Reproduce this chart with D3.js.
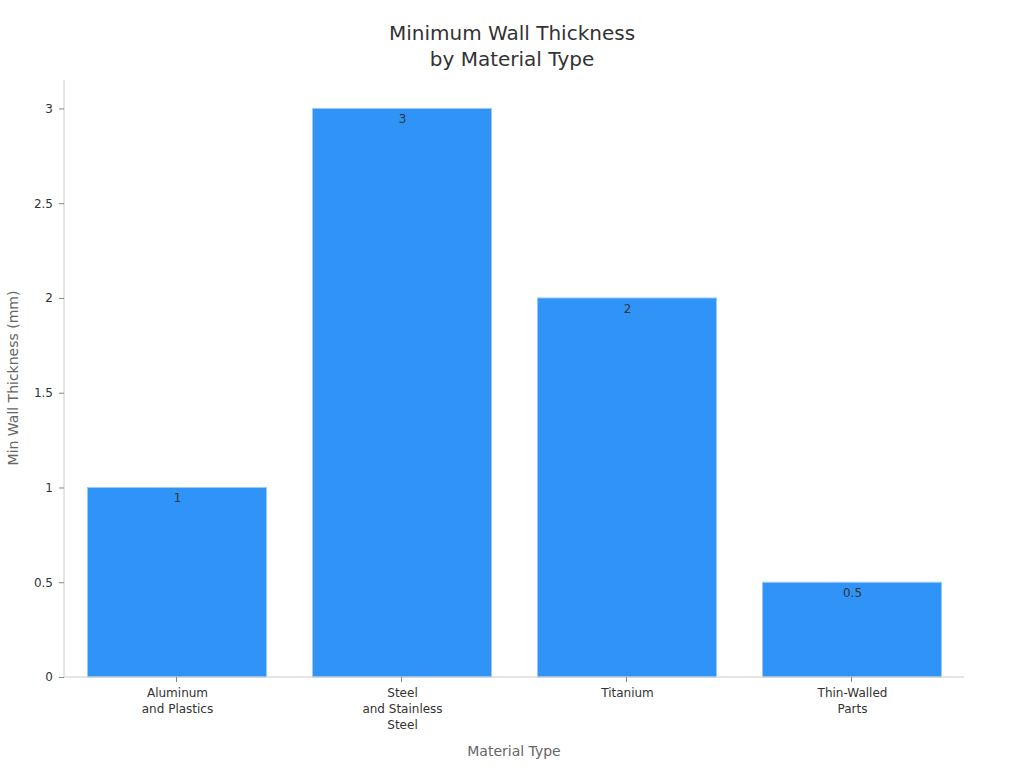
<!DOCTYPE html>
<html>
<head>
<meta charset="utf-8">
<script src="https://cdn.jsdelivr.net/npm/d3@7"></script>
<style>
  body { margin: 0; background: #fff; }
  svg { font-family: "DejaVu Sans", sans-serif; }
</style>
</head>
<body>
<svg id="chart" width="1024" height="768"></svg>
<script>
// Chart data
var categories = [["Aluminum", "and Plastics"], ["Steel", "and Stainless", "Steel"], ["Titanium"], ["Thin-Walled", "Parts"]];
var values = [1, 3, 2, 0.5];
var yTicks = [0, 0.5, 1, 1.5, 2, 2.5, 3];

var svg = d3.select("#chart");
var margin = {left: 64, right: 60, top: 80, bottom: 91};
var width = 1024 - margin.left - margin.right;
var height = 768 - margin.top - margin.bottom;

var keys = categories.map(function(c, i) { return i; });
var x = d3.scaleBand().domain(keys).range([0, width]).paddingInner(0.2).paddingOuter(0.1);
var y = d3.scaleLinear().domain([0, 3.15]).range([height, 0]);

var g = svg.append("g").attr("transform", "translate(" + margin.left + "," + margin.top + ")");

// Title
svg.append("text").attr("x", 512).attr("y", 40).attr("text-anchor", "middle")
    .attr("font-size", 20).attr("fill", "#333").text("Minimum Wall Thickness");
svg.append("text").attr("x", 512).attr("y", 66).attr("text-anchor", "middle")
    .attr("font-size", 20).attr("fill", "#333").text("by Material Type");

// Bars
g.selectAll("rect.bar").data(values).enter().append("rect")
    .attr("class", "bar")
    .attr("x", function(d, i) { return x(i) + 1; })
    .attr("y", function(d) { return y(d); })
    .attr("width", x.bandwidth() - 1)
    .attr("height", function(d) { return height - y(d); })
    .attr("fill", "#2f93f8")
    .attr("stroke", "#9ccaf8")
    .attr("stroke-width", 1);

// Value labels
g.selectAll("text.val").data(values).enter().append("text")
    .attr("class", "val")
    .attr("x", function(d, i) { return x(i) + x.bandwidth() / 2 + 1; })
    .attr("y", function(d) { return y(d) + 15; })
    .attr("text-anchor", "middle")
    .attr("font-size", 12)
    .attr("fill", "#333")
    .text(function(d) { return d; });

// Y axis
var yAxis = g.append("g").call(d3.axisLeft(y).tickValues(yTicks).tickSize(5).tickPadding(6).tickFormat(d3.format("~g")));
yAxis.select(".domain").attr("stroke", "#ccc").attr("d", "M0," + height + "V0");
yAxis.selectAll(".tick line").attr("stroke", "#888");
yAxis.selectAll(".tick text").attr("font-size", 12).attr("fill", "#333").attr("font-family", "DejaVu Sans");

// X axis
var xAxis = g.append("g").attr("transform", "translate(0," + height + ")")
    .call(d3.axisBottom(x).tickSize(5).tickFormat(""));
xAxis.select(".domain").attr("stroke", "#ccc").attr("d", "M0,0H" + width);
xAxis.selectAll(".tick line").attr("stroke", "#888");
xAxis.selectAll(".tick").each(function(d) {
    var t = d3.select(this).append("text")
        .attr("y", 20)
        .attr("text-anchor", "middle")
        .attr("font-size", 12)
        .attr("fill", "#333")
        .attr("font-family", "DejaVu Sans");
    categories[d].forEach(function(line, j) {
        t.append("tspan").attr("x", 1).attr("dy", j == 0 ? 0 : 16).text(line);
    });
});

// Axis titles
svg.append("text").attr("x", margin.left + width / 2).attr("y", 756)
    .attr("text-anchor", "middle").attr("font-size", 14).attr("fill", "#666").text("Material Type");
svg.append("text").attr("transform", "translate(18,378) rotate(-90)")
    .attr("text-anchor", "middle").attr("font-size", 14).attr("fill", "#666").text("Min Wall Thickness (mm)");
</script>
</body>
</html>
